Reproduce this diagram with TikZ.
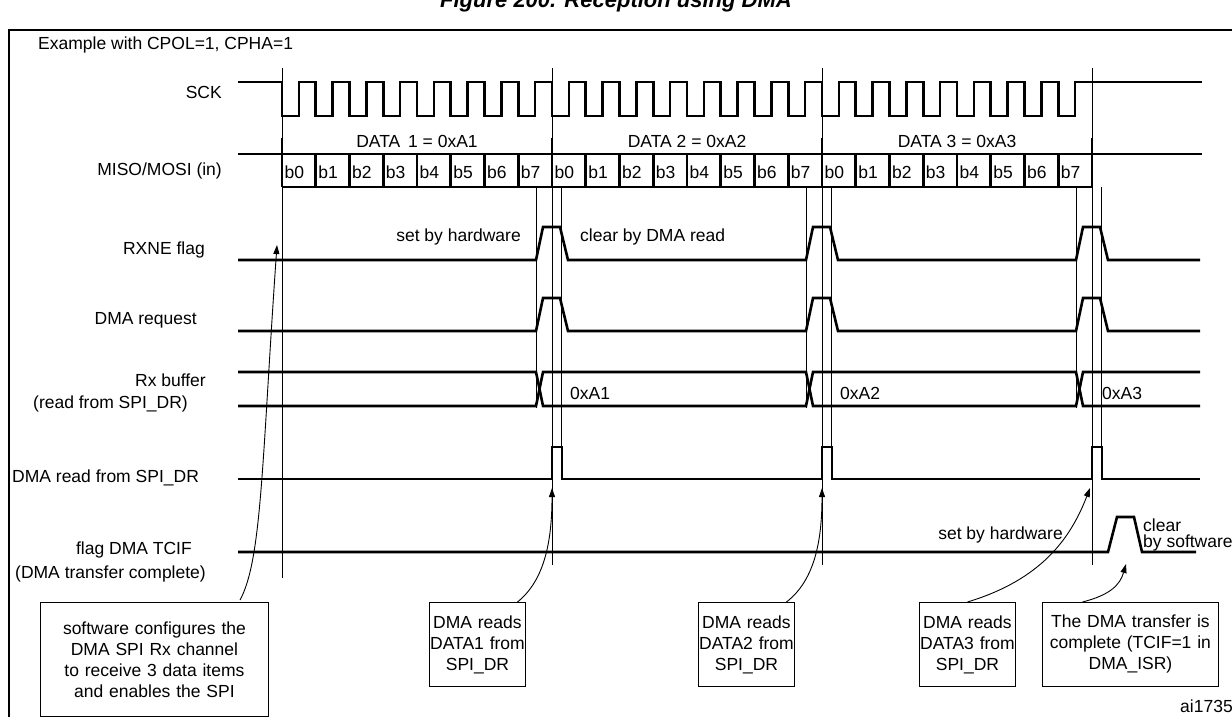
\documentclass[tikz,border=0pt]{standalone}
\usepackage{fontspec}
\setmainfont{Liberation Sans}
\usetikzlibrary{arrows.meta}

\begin{document}
\begin{tikzpicture}[
x=1pt, y=-1pt,
sig/.style={line width=2.6pt, line join=miter},
guide/.style={line width=0.9pt},
lbl/.style={anchor=east, inner sep=0pt},
txt/.style={inner sep=0pt},
note/.style={draw, line width=0.9pt, align=center, inner sep=0pt, text width=#1},
callout/.style={line width=0.9pt, -{Triangle[length=9pt, width=6pt]}},
every node/.style={font=\fontsize{17.5}{21}\selectfont}
]
\useasboundingbox (0,0) rectangle (1232,716);

% Frame and title
\node[txt, font=\fontsize{22}{24}\selectfont\bfseries\itshape] (title) at (616,2) {Figure 200. Reception using DMA};
\draw[line width=1.6pt] (9,30) rectangle (1245,740);
\node[txt, anchor=west] (example) at (38,45) {Example with CPOL=1, CPHA=1};

% Signal names
\node[lbl] (sck) at (222,92) {SCK};
\node[lbl] (miso) at (222,171) {MISO/MOSI (in)};
\node[lbl] (rxne) at (205,250) {RXNE flag};
\node[lbl] (dmareq) at (197,320) {DMA request};
\node[lbl] (rxbuf) at (206,380) {Rx buffer};
\node[lbl] (rxbufsub) at (188,404) {(read from SPI\_DR)};
\node[txt, anchor=west] (dmard) at (12,478) {DMA read from SPI\_DR};
\node[lbl] (tcif) at (192,550) {flag DMA TCIF};
\node[lbl] (tcifsub) at (206,574) {(DMA transfer complete)};

% Time guides
\draw[guide] (282,68) -- (282,578);
\foreach \e in {552,822,1092} {
  \draw[guide] (\e,68) -- (\e,187);
  \draw[guide] ({\e-16},187) -- ({\e-16},408);
  \draw[guide] ({\e+9},187) -- ({\e+9},479);
  \draw[guide] (\e,187) -- (\e,565);
}

% SCK
\draw[sig] (238,82) \foreach \i in {0,...,23} {
  -- ({282+\i*33.75},82) -- ({282+\i*33.75},116)
  -- ({298.875+\i*33.75},116) -- ({298.875+\i*33.75},82)} -- (1202,82);

% MISO/MOSI bits
\draw[sig] (238,154) -- (1202,154);
\draw[sig] (282,187) -- (1092,187);
\foreach \i in {0,...,23} {
  \pgfmathtruncatemacro\b{mod(\i,8)}
  \draw[sig] ({282+\i*33.75},154) -- ({282+\i*33.75},187);
  \node[txt, anchor=west] (bit\i) at ({284.5+\i*33.75},172) {b\b};
}
\foreach \e in {282,552,822,1092} {
  \draw[sig] (\e,138) -- (\e,187);
}
\node[txt] (data1) at (417,141) {DATA \,1 = 0xA1};
\node[txt] (data2) at (687,141) {DATA 2 = 0xA2};
\node[txt] (data3) at (957,141) {DATA 3 = 0xA3};

% RXNE flag and DMA request
\foreach \lo/\hi in {260/227, 331/298} {
  \draw[sig] (238,\lo) \foreach \e in {552,822,1092} {
    -- ({\e-16},\lo) -- ({\e-9},\hi) -- ({\e+8},\hi) -- ({\e+16},\lo)} -- (1200,\lo);
}
\node[txt, anchor=east] (rxneset) at (521,237) {set by hardware};
\node[txt, anchor=west] (rxneclr) at (580,237) {clear by DMA read};

% Rx buffer
\draw[sig] (238,372) -- (536,372) -- (543,406) -- (806,406) -- (813,372) -- (1076,372) -- (1083,406) -- (1200,406);
\draw[sig] (238,406) -- (536,406) -- (543,372) -- (806,372) -- (813,406) -- (1076,406) -- (1083,372) -- (1200,372);
\node[txt, anchor=west] (rxa1) at (570,393) {0xA1};
\node[txt, anchor=west] (rxa2) at (840,393) {0xA2};
\node[txt, anchor=west] (rxa3) at (1102,393) {0xA3};

% DMA read from SPI_DR
\draw[sig] (238,479) \foreach \e in {552,822,1092} {
  -- (\e,479) -- (\e,447) -- ({\e+10},447) -- ({\e+10},479)} -- (1200,479);

% TCIF
\draw[sig] (238,552) -- (1108,552) -- (1117,517) -- (1134,517) -- (1142,552) -- (1196,552);
\node[txt, anchor=east] (tcifset) at (1063,535) {set by hardware};
\node[txt, anchor=west] (tcifclr) at (1143,525) {clear};
\node[txt, anchor=west] (tcifclr2) at (1143,543) {by software};

% Notes
\node[note=228pt, minimum height=114pt, anchor=north west] (cfg) at (40,602) {software configures the\\ DMA SPI Rx channel\\ to receive 3 data items\\ and enables the SPI\\[12pt]};
\node[note=96pt, minimum height=84pt, anchor=north west] (rd1) at (429,602) {DMA reads\\ DATA1 from\\ SPI\_DR};
\node[note=96pt, minimum height=84pt, anchor=north west] (rd2) at (698,602) {DMA reads\\ DATA2 from\\ SPI\_DR};
\node[note=96pt, minimum height=84pt, anchor=north west] (rd3) at (919,602) {DMA reads\\ DATA3 from\\ SPI\_DR};
\node[note=176pt, minimum height=84pt, anchor=north west] (done) at (1042,602) {The DMA transfer is\\ complete (TCIF=1 in\\ DMA\_ISR)};
\node[txt, anchor=west] (ref) at (1180,706) {ai17350};

% Callouts
\coordinate (t0) at (277,245);
\coordinate (t1) at (552,488);
\coordinate (t2) at (822,488);
\coordinate (t3) at (1090,488);
\coordinate (t4) at (1126,564);
\coordinate (c0) at (240,600);
\draw[callout] (c0) .. controls (262,560) and (262,460) .. (t0);
\draw[callout] (rd1.north)+(40,0) .. controls (545,580) and (552,540) .. (t1);
\draw[callout] (rd2.north)+(40,0) .. controls (815,580) and (822,540) .. (t2);
\draw[callout] (rd3.north) .. controls (1040,580) and (1070,540) .. (t3);
\draw[callout] (done.north)+(-48,0) .. controls (1110,595) and (1120,585) .. (t4);
\end{tikzpicture}
\end{document}
